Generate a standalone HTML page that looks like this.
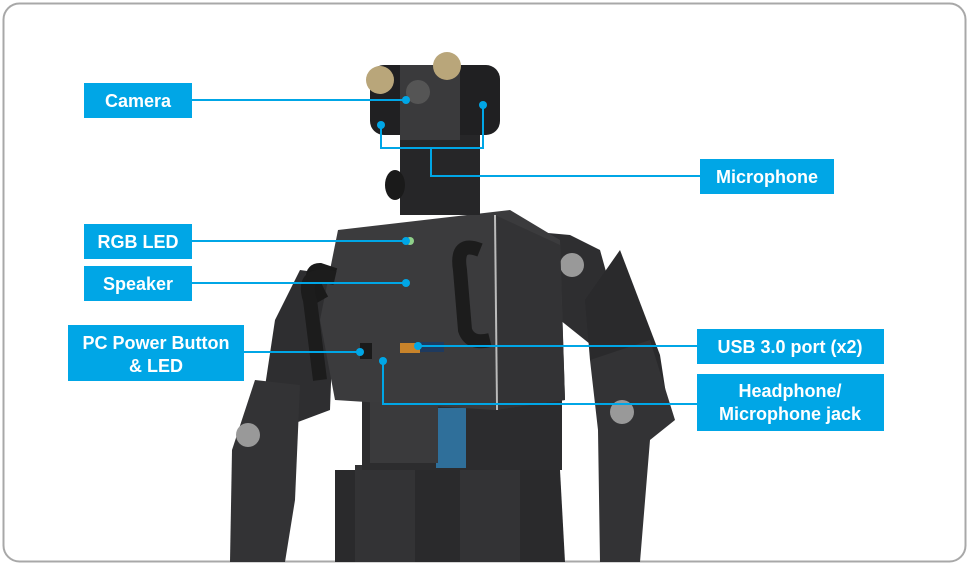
<!DOCTYPE html>
<html><head><meta charset="utf-8"><style>
html,body{margin:0;padding:0;background:#fff;width:969px;height:566px;overflow:hidden}
svg{display:block}
text{font-family:"Liberation Sans",sans-serif;font-weight:bold;fill:#fff;font-size:18px}
</style></head><body>
<svg width="969" height="566" viewBox="0 0 969 566" xmlns="http://www.w3.org/2000/svg">
<rect x="3.5" y="3.5" width="962" height="558" rx="16" fill="#fff" stroke="#a8a8a8" stroke-width="2"/>
<!-- robot -->
<g>
<!-- legs -->
<polygon points="335,470 560,470 565,562 335,562" fill="#2a2a2c"/>
<rect x="355" y="465" width="60" height="97" fill="#333335"/>
<rect x="460" y="465" width="60" height="97" fill="#333335"/>
<!-- pelvis -->
<rect x="362" y="395" width="200" height="75" fill="#2c2c2e"/>
<rect x="436" y="408" width="30" height="60" fill="#2f6f9a"/>
<rect x="370" y="375" width="68" height="88" fill="#3a3a3c"/>
<!-- left arm -->
<polygon points="300,270 335,275 330,410 290,425 260,420 275,320" fill="#2e2e30"/>
<polygon points="255,380 300,385 295,500 285,562 230,562 232,450" fill="#333335"/>
<circle cx="248" cy="435" r="12" fill="#999"/>
<!-- right arm -->
<polygon points="515,230 570,235 600,250 625,340 610,360 560,320 520,290" fill="#2e2e30"/>
<polygon points="585,300 620,250 660,355 670,420 650,430 625,410 590,360" fill="#2a2a2c"/>
<polygon points="590,360 650,340 675,420 650,440 640,562 600,562 598,430" fill="#333335"/>
<circle cx="572" cy="265" r="12" fill="#999"/>
<circle cx="622" cy="412" r="12" fill="#999"/>
<!-- torso -->
<polygon points="338,230 510,210 560,240 565,400 495,410 335,400 320,320" fill="#3b3b3d"/>
<polygon points="495,215 560,245 565,400 495,410" fill="#333335"/>
<line x1="495" y1="215" x2="497" y2="410" stroke="#bbb" stroke-width="2"/>
<!-- handles -->
<path d="M322,300 Q305,270 320,270 L335,275" fill="none" stroke="#1a1a1a" stroke-width="14"/>
<path d="M335,278 Q300,270 310,300 L320,380" fill="none" stroke="#1c1c1c" stroke-width="14"/>
<path d="M480,250 Q455,240 460,270 L465,330 Q470,345 490,340" fill="none" stroke="#1c1c1c" stroke-width="14"/>
<!-- neck -->
<rect x="400" y="135" width="80" height="80" fill="#262628"/>
<ellipse cx="395" cy="185" rx="10" ry="15" fill="#1a1a1a"/>
<!-- head -->
<rect x="370" y="65" width="130" height="70" rx="14" fill="#202022"/>
<rect x="400" y="65" width="60" height="75" fill="#3a3a3c"/>
<circle cx="418" cy="92" r="12" fill="#555"/>
<circle cx="380" cy="80" r="14" fill="#b9a67a"/>
<circle cx="447" cy="66" r="14" fill="#b9a67a"/>
<circle cx="404" cy="344" r="0"/>
</g>
<!-- small features -->
<rect x="360" y="343" width="12" height="16" fill="#1a1a1a"/>
<rect x="400" y="343" width="20" height="10" fill="#c8832a"/>
<rect x="420" y="342" width="24" height="10" fill="#1e3a5f"/>
<circle cx="410" cy="241" r="4" fill="#8fd08a"/>
<!-- connectors -->
<g stroke="#00a6e6" stroke-width="2" fill="none">
<line x1="192" y1="100" x2="406" y2="100"/>
<line x1="192" y1="241" x2="406" y2="241"/>
<line x1="192" y1="283" x2="406" y2="283"/>
<line x1="244" y1="352" x2="360" y2="352"/>
<polyline points="700,176 431,176 431,148"/>
<polyline points="381,125 381,148 483,148 483,105"/>
<line x1="697" y1="346" x2="418" y2="346"/>
<polyline points="697,404 383,404 383,361"/>
</g>
<g fill="#00a6e6">
<circle cx="406" cy="100" r="4"/><circle cx="406" cy="241" r="4"/><circle cx="406" cy="283" r="4"/>
<circle cx="360" cy="352" r="4"/><circle cx="381" cy="125" r="4"/><circle cx="483" cy="105" r="4"/>
<circle cx="418" cy="346" r="4"/><circle cx="383" cy="361" r="4"/>
</g>
<!-- labels -->
<g fill="#00a6e6">
<rect x="84" y="83" width="108" height="35"/>
<rect x="84" y="224" width="108" height="35"/>
<rect x="84" y="266" width="108" height="35"/>
<rect x="68" y="325" width="176" height="56"/>
<rect x="700" y="159" width="134" height="35"/>
<rect x="697" y="329" width="187" height="35"/>
<rect x="697" y="374" width="187" height="57"/>
</g>
<text x="138" y="107" text-anchor="middle">Camera</text>
<text x="138" y="248" text-anchor="middle">RGB LED</text>
<text x="138" y="290" text-anchor="middle">Speaker</text>
<text x="156" y="349" text-anchor="middle">PC Power Button</text>
<text x="156" y="372" text-anchor="middle">&amp; LED</text>
<text x="767" y="183" text-anchor="middle">Microphone</text>
<text x="790" y="353" text-anchor="middle">USB 3.0 port (x2)</text>
<text x="790" y="397" text-anchor="middle">Headphone/</text>
<text x="790" y="420" text-anchor="middle">Microphone jack</text>
</svg>
</body></html>
